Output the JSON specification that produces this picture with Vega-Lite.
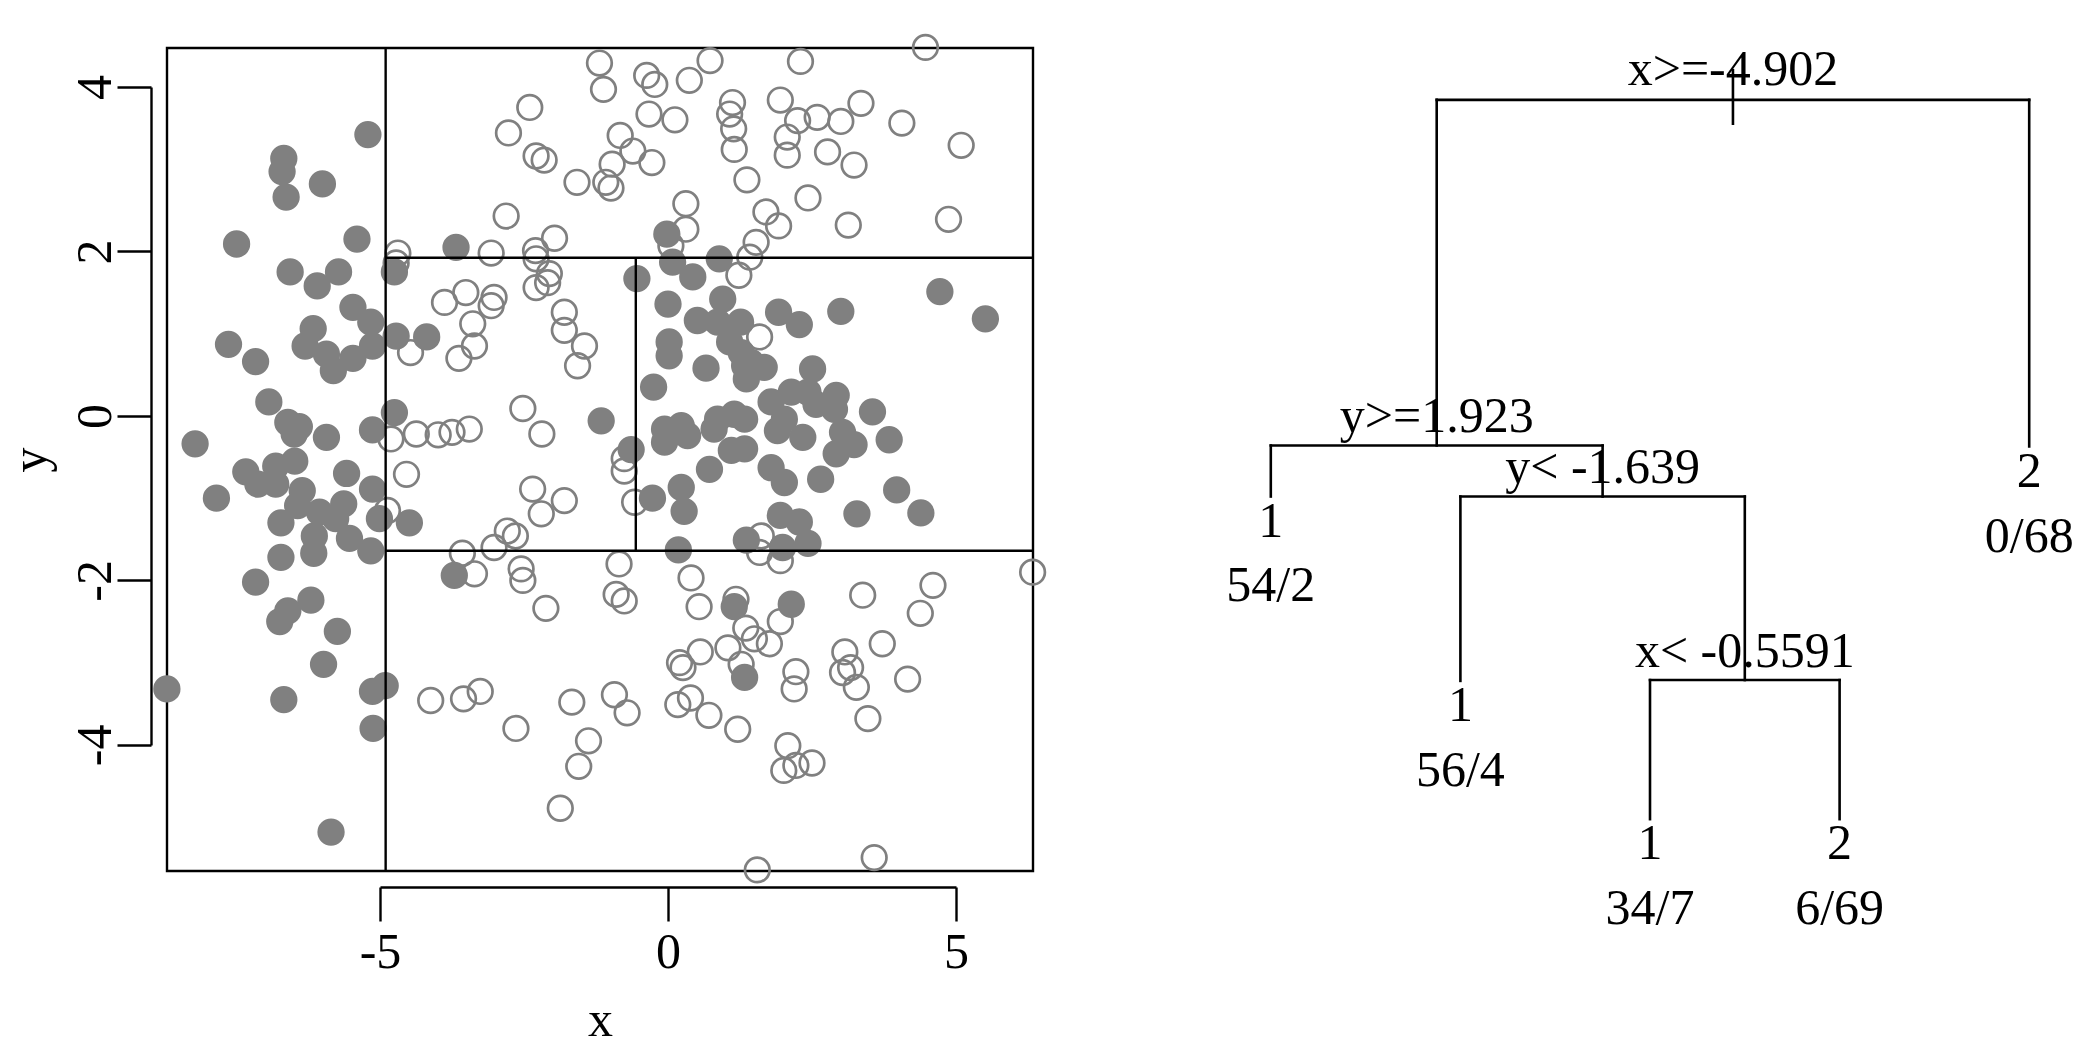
{
"$schema": "https://vega.github.io/schema/vega-lite/v6.json",
"background": "white",
"padding": {"left": 3, "top": 28, "right": 0, "bottom": 0},
"bounds": "flush",
"spacing": 143,
"config": {"font": "Liberation Serif", "axis": {"labelFont": "Liberation Serif", "titleFont": "Liberation Serif"}},
"datasets": {
"pts": [
{"x":-1.19,"y":4.29,"c":"1"},{"x":-1.12,"y":3.97,"c":"1"},{"x":-2.40,"y":3.75,"c":"1"},{"x":-2.77,"y":3.44,"c":"1"},{"x":-2.29,"y":3.16,"c":"1"},{"x":-2.15,"y":3.11,"c":"1"},{"x":-1.58,"y":2.84,"c":"1"},{"x":-1.08,"y":2.84,"c":"1"},{"x":-0.99,"y":2.77,"c":"1"},{"x":-0.97,"y":3.06,"c":"1"},{"x":-0.83,"y":3.41,"c":"1"},{"x":-0.61,"y":3.22,"c":"1"},{"x":-0.28,"y":3.08,"c":"1"},{"x":-2.81,"y":2.43,"c":"1"},{"x":-0.37,"y":4.14,"c":"1"},{"x":-0.23,"y":4.03,"c":"1"},{"x":0.37,"y":4.08,"c":"1"},{"x":0.73,"y":4.32,"c":"1"},{"x":-0.33,"y":3.67,"c":"1"},{"x":0.12,"y":3.60,"c":"1"},{"x":1.12,"y":3.81,"c":"1"},{"x":1.14,"y":3.49,"c":"1"},{"x":1.15,"y":3.24,"c":"1"},{"x":1.07,"y":3.67,"c":"1"},{"x":1.37,"y":2.87,"c":"1"},{"x":0.31,"y":2.58,"c":"1"},{"x":0.31,"y":2.27,"c":"1"},{"x":0.05,"y":2.07,"c":"1"},{"x":1.53,"y":2.11,"c":"1"},{"x":1.42,"y":1.93,"c":"1"},{"x":-3.07,"y":1.98,"c":"1"},{"x":-2.30,"y":2.01,"c":"1"},{"x":-1.97,"y":2.16,"c":"1"},{"x":-4.69,"y":1.98,"c":"1"},{"x":4.47,"y":4.48,"c":"1"},{"x":2.30,"y":4.31,"c":"1"},{"x":1.95,"y":3.84,"c":"1"},{"x":2.25,"y":3.59,"c":"1"},{"x":2.59,"y":3.63,"c":"1"},{"x":3.00,"y":3.58,"c":"1"},{"x":3.35,"y":3.80,"c":"1"},{"x":4.06,"y":3.56,"c":"1"},{"x":5.09,"y":3.29,"c":"1"},{"x":2.07,"y":3.39,"c":"1"},{"x":2.07,"y":3.17,"c":"1"},{"x":2.77,"y":3.21,"c":"1"},{"x":3.23,"y":3.05,"c":"1"},{"x":2.43,"y":2.65,"c":"1"},{"x":1.70,"y":2.48,"c":"1"},{"x":1.92,"y":2.31,"c":"1"},{"x":3.13,"y":2.32,"c":"1"},{"x":4.87,"y":2.39,"c":"1"},
{"x":-4.72,"y":1.86,"c":"1"},{"x":-2.29,"y":1.91,"c":"1"},{"x":-2.06,"y":1.73,"c":"1"},{"x":-2.09,"y":1.62,"c":"1"},{"x":-2.29,"y":1.56,"c":"1"},{"x":-3.51,"y":1.50,"c":"1"},{"x":-3.02,"y":1.44,"c":"1"},{"x":-3.07,"y":1.34,"c":"1"},{"x":-3.39,"y":1.12,"c":"1"},{"x":-1.80,"y":1.26,"c":"1"},{"x":-3.88,"y":1.38,"c":"1"},{"x":-3.36,"y":0.85,"c":"1"},{"x":-3.63,"y":0.70,"c":"1"},{"x":-1.80,"y":1.04,"c":"1"},{"x":-1.45,"y":0.85,"c":"1"},{"x":-1.57,"y":0.61,"c":"1"},{"x":-2.52,"y":0.09,"c":"1"},{"x":-3.45,"y":-0.16,"c":"1"},{"x":-3.75,"y":-0.20,"c":"1"},{"x":-2.19,"y":-0.22,"c":"1"},{"x":-0.76,"y":-0.52,"c":"1"},{"x":-0.76,"y":-0.67,"c":"1"},{"x":-2.35,"y":-0.89,"c":"1"},{"x":-2.20,"y":-1.19,"c":"1"},{"x":-1.80,"y":-1.03,"c":"1"},{"x":-0.58,"y":-1.05,"c":"1"},{"x":-2.79,"y":-1.40,"c":"1"},{"x":-2.65,"y":-1.46,"c":"1"},{"x":-3.02,"y":-1.60,"c":"1"},{"x":-4.47,"y":0.77,"c":"1"},{"x":-4.81,"y":-0.28,"c":"1"},{"x":-4.37,"y":-0.22,"c":"1"},{"x":-3.99,"y":-0.23,"c":"1"},{"x":-4.54,"y":-0.71,"c":"1"},{"x":-4.87,"y":-1.15,"c":"1"},
{"x":1.23,"y":1.71,"c":"1"},{"x":1.59,"y":0.96,"c":"1"},{"x":1.62,"y":-1.46,"c":"1"},
{"x":-3.36,"y":-1.92,"c":"1"},{"x":-2.55,"y":-1.86,"c":"1"},{"x":-2.52,"y":-2.00,"c":"1"},{"x":-0.85,"y":-1.80,"c":"1"},{"x":-0.90,"y":-2.17,"c":"1"},{"x":-0.76,"y":-2.25,"c":"1"},{"x":-2.12,"y":-2.34,"c":"1"},{"x":0.40,"y":-1.97,"c":"1"},{"x":0.54,"y":-2.32,"c":"1"},{"x":1.18,"y":-2.23,"c":"1"},{"x":-3.57,"y":-1.67,"c":"1"},{"x":1.35,"y":-2.58,"c":"1"},{"x":1.04,"y":-2.82,"c":"1"},{"x":1.27,"y":-3.02,"c":"1"},{"x":0.56,"y":-2.87,"c":"1"},{"x":0.20,"y":-3.00,"c":"1"},{"x":0.26,"y":-3.06,"c":"1"},{"x":-3.26,"y":-3.35,"c":"1"},{"x":-3.55,"y":-3.44,"c":"1"},{"x":-1.67,"y":-3.48,"c":"1"},{"x":-0.93,"y":-3.39,"c":"1"},{"x":-0.71,"y":-3.61,"c":"1"},{"x":0.17,"y":-3.51,"c":"1"},{"x":0.39,"y":-3.43,"c":"1"},{"x":0.71,"y":-3.64,"c":"1"},{"x":1.21,"y":-3.81,"c":"1"},{"x":-2.64,"y":-3.80,"c":"1"},{"x":-1.38,"y":-3.95,"c":"1"},{"x":-1.55,"y":-4.26,"c":"1"},{"x":-1.87,"y":-4.77,"c":"1"},{"x":1.55,"y":-5.52,"c":"1"},{"x":1.95,"y":-2.50,"c":"1"},{"x":1.50,"y":-2.71,"c":"1"},{"x":1.76,"y":-2.77,"c":"1"},{"x":4.38,"y":-2.40,"c":"1"},{"x":3.38,"y":-2.18,"c":"1"},{"x":4.60,"y":-2.06,"c":"1"},{"x":3.07,"y":-2.87,"c":"1"},{"x":3.03,"y":-3.12,"c":"1"},{"x":3.17,"y":-3.06,"c":"1"},{"x":3.27,"y":-3.30,"c":"1"},{"x":3.72,"y":-2.77,"c":"1"},{"x":2.22,"y":-3.11,"c":"1"},{"x":2.19,"y":-3.32,"c":"1"},{"x":4.16,"y":-3.20,"c":"1"},{"x":3.47,"y":-3.68,"c":"1"},{"x":2.08,"y":-4.01,"c":"1"},{"x":2.01,"y":-4.31,"c":"1"},{"x":2.22,"y":-4.25,"c":"1"},{"x":2.50,"y":-4.22,"c":"1"},{"x":3.58,"y":-5.37,"c":"1"},{"x":6.33,"y":-1.90,"c":"1"},{"x":-4.12,"y":-3.46,"c":"1"},{"x":1.59,"y":-1.66,"c":"1"},{"x":1.95,"y":-1.76,"c":"1"},
{"x":-5.21,"y":3.42,"c":"2"},{"x":-6.67,"y":3.13,"c":"2"},{"x":-6.70,"y":2.97,"c":"2"},{"x":-6.63,"y":2.66,"c":"2"},{"x":-6.00,"y":2.82,"c":"2"},{"x":-7.49,"y":2.09,"c":"2"},{"x":-5.40,"y":2.15,"c":"2"},{"x":-6.56,"y":1.75,"c":"2"},{"x":-5.72,"y":1.75,"c":"2"},{"x":-6.09,"y":1.58,"c":"2"},{"x":-5.47,"y":1.32,"c":"2"},{"x":-5.16,"y":1.14,"c":"2"},{"x":-6.16,"y":1.06,"c":"2"},{"x":-7.63,"y":0.87,"c":"2"},{"x":-7.16,"y":0.66,"c":"2"},{"x":-6.30,"y":0.85,"c":"2"},{"x":-5.93,"y":0.75,"c":"2"},{"x":-5.81,"y":0.55,"c":"2"},{"x":-5.47,"y":0.70,"c":"2"},{"x":-5.13,"y":0.85,"c":"2"},{"x":-6.93,"y":0.17,"c":"2"},{"x":-6.60,"y":-0.08,"c":"2"},{"x":-6.40,"y":-0.13,"c":"2"},{"x":-6.49,"y":-0.22,"c":"2"},{"x":-8.21,"y":-0.34,"c":"2"},{"x":-5.93,"y":-0.26,"c":"2"},{"x":-5.13,"y":-0.17,"c":"2"},{"x":-7.84,"y":-1.00,"c":"2"},{"x":-7.33,"y":-0.68,"c":"2"},{"x":-6.81,"y":-0.61,"c":"2"},{"x":-6.48,"y":-0.55,"c":"2"},{"x":-7.12,"y":-0.83,"c":"2"},{"x":-6.81,"y":-0.83,"c":"2"},{"x":-6.35,"y":-0.91,"c":"2"},{"x":-5.58,"y":-0.70,"c":"2"},{"x":-5.13,"y":-0.89,"c":"2"},{"x":-5.63,"y":-1.07,"c":"2"},{"x":-6.43,"y":-1.09,"c":"2"},{"x":-6.05,"y":-1.17,"c":"2"},{"x":-6.72,"y":-1.30,"c":"2"},{"x":-6.14,"y":-1.46,"c":"2"},{"x":-6.72,"y":-1.72,"c":"2"},{"x":-6.15,"y":-1.67,"c":"2"},{"x":-5.77,"y":-1.25,"c":"2"},{"x":-5.53,"y":-1.49,"c":"2"},{"x":-5.16,"y":-1.64,"c":"2"},{"x":-5.01,"y":-1.25,"c":"2"},{"x":-7.16,"y":-2.02,"c":"2"},{"x":-6.20,"y":-2.24,"c":"2"},{"x":-6.60,"y":-2.37,"c":"2"},{"x":-6.74,"y":-2.50,"c":"2"},{"x":-5.74,"y":-2.62,"c":"2"},{"x":-5.98,"y":-3.02,"c":"2"},{"x":-8.70,"y":-3.32,"c":"2"},{"x":-6.67,"y":-3.45,"c":"2"},{"x":-5.13,"y":-3.35,"c":"2"},{"x":-4.91,"y":-3.28,"c":"2"},{"x":-5.12,"y":-3.80,"c":"2"},{"x":-5.85,"y":-5.06,"c":"2"},
{"x":-4.75,"y":1.75,"c":"2"},{"x":-4.72,"y":0.97,"c":"2"},{"x":-4.19,"y":0.96,"c":"2"},{"x":-4.75,"y":0.04,"c":"2"},{"x":-4.49,"y":-1.30,"c":"2"},{"x":-1.16,"y":-0.06,"c":"2"},{"x":-0.64,"y":-0.41,"c":"2"},
{"x":-3.68,"y":2.05,"c":"2"},{"x":-0.02,"y":2.21,"c":"2"},
{"x":0.08,"y":1.87,"c":"2"},{"x":0.43,"y":1.69,"c":"2"},{"x":0.89,"y":1.91,"c":"2"},{"x":0.00,"y":1.36,"c":"2"},{"x":0.51,"y":1.16,"c":"2"},{"x":0.95,"y":1.42,"c":"2"},{"x":1.26,"y":1.14,"c":"2"},{"x":-0.54,"y":1.67,"c":"2"},{"x":1.92,"y":1.26,"c":"2"},{"x":2.28,"y":1.11,"c":"2"},{"x":3.00,"y":1.27,"c":"2"},{"x":4.72,"y":1.51,"c":"2"},{"x":5.51,"y":1.18,"c":"2"},{"x":0.02,"y":0.90,"c":"2"},{"x":0.02,"y":0.73,"c":"2"},{"x":0.66,"y":0.58,"c":"2"},{"x":-0.25,"y":0.35,"c":"2"},{"x":1.07,"y":0.90,"c":"2"},{"x":0.86,"y":1.14,"c":"2"},{"x":1.33,"y":0.61,"c":"2"},{"x":1.27,"y":0.77,"c":"2"},{"x":-0.06,"y":-0.16,"c":"2"},{"x":0.23,"y":-0.12,"c":"2"},{"x":0.34,"y":-0.24,"c":"2"},{"x":-0.06,"y":-0.32,"c":"2"},{"x":0.86,"y":-0.04,"c":"2"},{"x":1.15,"y":0.02,"c":"2"},{"x":1.33,"y":-0.04,"c":"2"},{"x":0.80,"y":-0.16,"c":"2"},{"x":1.10,"y":-0.42,"c":"2"},{"x":1.33,"y":-0.40,"c":"2"},{"x":0.72,"y":-0.65,"c":"2"},{"x":0.23,"y":-0.87,"c":"2"},{"x":0.28,"y":-1.16,"c":"2"},{"x":-0.27,"y":-1.00,"c":"2"},{"x":0.18,"y":-1.63,"c":"2"},{"x":1.36,"y":-1.51,"c":"2"},{"x":1.44,"y":0.65,"c":"2"},{"x":1.67,"y":0.59,"c":"2"},{"x":1.36,"y":0.45,"c":"2"},{"x":2.51,"y":0.57,"c":"2"},{"x":2.14,"y":0.29,"c":"2"},{"x":1.79,"y":0.17,"c":"2"},{"x":2.43,"y":0.29,"c":"2"},{"x":2.92,"y":0.25,"c":"2"},{"x":2.57,"y":0.14,"c":"2"},{"x":2.89,"y":0.08,"c":"2"},{"x":3.55,"y":0.05,"c":"2"},{"x":1.90,"y":-0.18,"c":"2"},{"x":2.02,"y":-0.04,"c":"2"},{"x":2.34,"y":-0.26,"c":"2"},{"x":3.03,"y":-0.20,"c":"2"},{"x":3.23,"y":-0.35,"c":"2"},{"x":2.92,"y":-0.46,"c":"2"},{"x":3.84,"y":-0.29,"c":"2"},{"x":1.79,"y":-0.63,"c":"2"},{"x":2.02,"y":-0.81,"c":"2"},{"x":2.65,"y":-0.77,"c":"2"},{"x":3.97,"y":-0.90,"c":"2"},{"x":4.39,"y":-1.18,"c":"2"},{"x":3.28,"y":-1.19,"c":"2"},{"x":1.95,"y":-1.21,"c":"2"},{"x":2.28,"y":-1.29,"c":"2"},{"x":2.43,"y":-1.55,"c":"2"},{"x":1.99,"y":-1.60,"c":"2"},
{"x":-3.71,"y":-1.94,"c":"2"},{"x":1.15,"y":-2.32,"c":"2"},{"x":2.14,"y":-2.29,"c":"2"},{"x":1.33,"y":-3.18,"c":"2"}
],
"splits": [
{"x1":-4.902,"x2":-4.902,"y1":-5.53,"y2":4.47},
{"x1":-4.902,"x2":6.34,"y1":1.923,"y2":1.923},
{"x1":-4.902,"x2":6.34,"y1":-1.639,"y2":-1.639},
{"x1":-0.5591,"x2":-0.5591,"y1":-1.639,"y2":1.923}
],
"edges": [
{"x1":3.4375,"x2":3.4375,"y1":0.908,"y2":0.973},
{"x1":1.875,"x2":5,"y1":0.937,"y2":0.937},
{"x1":1.875,"x2":1.875,"y1":0.937,"y2":0.517},
{"x1":5,"x2":5,"y1":0.937,"y2":0.516},
{"x1":1,"x2":2.75,"y1":0.517,"y2":0.517},
{"x1":1,"x2":1,"y1":0.517,"y2":0.455},
{"x1":2.75,"x2":2.75,"y1":0.517,"y2":0.455},
{"x1":2,"x2":3.5,"y1":0.455,"y2":0.455},
{"x1":2,"x2":2,"y1":0.455,"y2":0.231},
{"x1":3.5,"x2":3.5,"y1":0.455,"y2":0.232},
{"x1":3,"x2":4,"y1":0.232,"y2":0.232},
{"x1":3,"x2":3,"y1":0.232,"y2":0.063},
{"x1":4,"x2":4,"y1":0.232,"y2":0.063}
],
"labels": [
{"tx":3.4375,"ty":0.9545,"label":"x>=-4.902"},
{"tx":1.875,"ty":0.5335,"label":"y>=1.923"},
{"tx":2.75,"ty":0.4716,"label":"y< -1.639"},
{"tx":3.5,"ty":0.2475,"label":"x< -0.5591"},
{"tx":1,"ty":0.4056,"label":"1"},
{"tx":1,"ty":0.3281,"label":"54/2"},
{"tx":2,"ty":0.1826,"label":"1"},
{"tx":2,"ty":0.1029,"label":"56/4"},
{"tx":3,"ty":0.0146,"label":"1"},
{"tx":3,"ty":-0.0644,"label":"34/7"},
{"tx":4,"ty":0.0146,"label":"2"},
{"tx":4,"ty":-0.0644,"label":"6/69"},
{"tx":5,"ty":0.4663,"label":"2"},
{"tx":5,"ty":0.3882,"label":"0/68"}
]
},
"hconcat": [
{
"width": 866, "height": 823,
"view": {"stroke": "black", "strokeWidth": 2.4},
"layer": [
{
"data": {"name": "pts"},
"mark": {"type": "point", "shape": "circle", "size": 605, "strokeWidth": 2.7, "opacity": 1, "filled": true},
"encoding": {
"x": {"field": "x", "type": "quantitative",
 "scale": {"domain": [-5, 5], "range": [213, 789], "nice": false, "zero": false},
 "axis": {"values": [-5, 0, 5], "labelExpr": "'' + datum.value", "title": "x", "offset": 16, "grid": false, "domainColor": "black", "domainWidth": 2.4, "tickColor": "black", "tickWidth": 2.4, "tickSize": 34, "labelFontSize": 50, "labelColor": "black", "labelPadding": 6, "labelFlush": false, "labelOverlap": false, "titleFontSize": 50, "titleFontWeight": "normal", "titleColor": "black", "titleX": 433, "titleY": 148, "titleBaseline": "alphabetic", "titleAlign": "center"}},
"y": {"field": "y", "type": "quantitative",
 "scale": {"domain": [-4, 4], "range": [696.9, 38.9], "nice": false, "zero": false},
 "axis": {"values": [-4, -2, 0, 2, 4], "labelExpr": "'' + datum.value", "title": "y", "offset": 16, "grid": false, "domainColor": "black", "domainWidth": 2.4, "tickColor": "black", "tickWidth": 2.4, "tickSize": 34, "labelFontSize": 50, "labelColor": "black", "labelAngle": 270, "labelAlign": "center", "labelBaseline": "alphabetic", "labelPadding": 7, "labelFlush": false, "labelOverlap": false, "titleFontSize": 50, "titleFontWeight": "normal", "titleColor": "black", "titleAngle": 270, "titleX": -106, "titleY": 411.5, "titleBaseline": "alphabetic", "titleAlign": "center"}},
"fill": {"field": "c", "type": "nominal", "scale": {"domain": ["1", "2"], "range": ["transparent", "#808080"]}, "legend": null},
"stroke": {"value": "#808080"}
}
},
{
"data": {"name": "splits"},
"mark": {"type": "rule", "color": "black", "strokeWidth": 2.4},
"encoding": {
"x": {"field": "x1", "type": "quantitative"},
"x2": {"field": "x2"},
"y": {"field": "y1", "type": "quantitative"},
"y2": {"field": "y2"}
}
}
]
},
{
"width": 948, "height": 823,
"view": {"stroke": null},
"layer": [
{
"data": {"name": "edges"},
"mark": {"type": "rule", "color": "black", "strokeWidth": 2.6, "strokeCap": "square"},
"encoding": {
"x": {"field": "x1", "type": "quantitative", "scale": {"domain": [0.5, 5.5], "nice": false, "zero": false}, "axis": null},
"x2": {"field": "x2"},
"y": {"field": "y1", "type": "quantitative", "scale": {"domain": [0, 1], "nice": false, "zero": false}, "axis": null},
"y2": {"field": "y2"}
}
},
{
"data": {"name": "labels"},
"mark": {"type": "text", "fontSize": 50, "font": "Liberation Serif", "align": "center", "baseline": "alphabetic", "color": "black"},
"encoding": {
"x": {"field": "tx", "type": "quantitative", "scale": {"domain": [0.5, 5.5], "nice": false, "zero": false}, "axis": null},
"y": {"field": "ty", "type": "quantitative", "scale": {"domain": [0, 1], "nice": false, "zero": false}, "axis": null},
"text": {"field": "label"}
}
}
]
}
]
}
